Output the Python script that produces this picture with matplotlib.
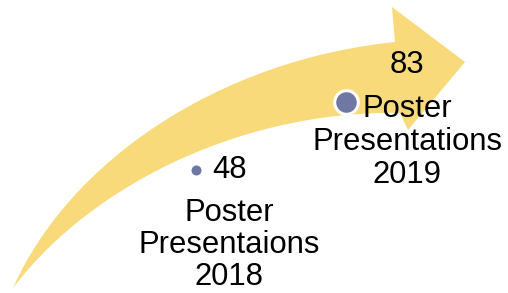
import matplotlib
matplotlib.use("Agg")
import matplotlib.pyplot as plt
from matplotlib.path import Path
from matplotlib.patches import PathPatch

# ---- data ----
categories = ["Poster\nPresentaions\n2018", "Poster\nPresentations\n2019"]
values = [48, 83]
value_labels = ["48", "83"]

# ---- style ----
ARROW_COLOR = "#F9DA7B"
DOT_COLOR = "#6F78A3"
FONT = ["Liberation Sans", "DejaVu Sans"]
FS = 22.3
W, H = 508, 293

fig = plt.figure(figsize=(W / 100, H / 100), dpi=100)
fig.patch.set_facecolor("white")

# decorative curved arrow in pixel space
bg = fig.add_axes([0, 0, 1, 1])
bg.set_xlim(0, W)
bg.set_ylim(H, 0)
bg.axis("off")

verts = [
    (13, 288),
    (70, 160), (220, 60), (395, 42),      # upper edge
    (392, 7), (465, 62), (408, 130), (400, 113),  # arrow head
    (250, 110), (95, 180), (13, 288),     # lower edge back to tail
]
codes = [Path.MOVETO,
         Path.CURVE4, Path.CURVE4, Path.CURVE4,
         Path.LINETO, Path.LINETO, Path.LINETO, Path.LINETO,
         Path.CURVE4, Path.CURVE4, Path.CURVE4]
bg.add_patch(PathPatch(Path(verts, codes), facecolor=ARROW_COLOR,
                       edgecolor="none", antialiased=True))

# data axes
ax = fig.add_axes([0, 0, 1, 1])
ax.patch.set_alpha(0)
ax.set_xlim(-1.3067, 2.08)
ax.set_ylim(-15.3, 135.5)
ax.axis("off")

x = list(range(len(categories)))
msizes = [8, 17]
medge = [0.8, 2.2]
for xi, v, ms, me in zip(x, values, msizes, medge):
    ax.plot([xi], [v], "o", markersize=ms, markerfacecolor=DOT_COLOR,
            markeredgecolor="white", markeredgewidth=me, zorder=3)

px = 0.72  # points per pixel at dpi 100
# value labels
ax.annotate(value_labels[0], (x[0], values[0]), xytext=(16 * px, 0),
            textcoords="offset points", ha="left", va="center",
            fontsize=FS, family=FONT, color="black", zorder=4)
ax.annotate(value_labels[1], (x[1], values[1]), xytext=(61 * px, 37 * px),
            textcoords="offset points", ha="center", va="center",
            fontsize=FS, family=FONT, color="black", zorder=4)
# category labels
cat_offsets = [(33, -75), (61, -40)]
cat_spacing = [1.08, 1.15]
for xi, v, c, (dx, dy), ls in zip(x, values, categories, cat_offsets, cat_spacing):
    ax.annotate(c, (xi, v), xytext=(dx * px, dy * px),
                textcoords="offset points", ha="center", va="center",
                multialignment="center", linespacing=ls,
                fontsize=FS, family=FONT, color="black", zorder=4)

fig.savefig("out.png", dpi=100, facecolor="white")
